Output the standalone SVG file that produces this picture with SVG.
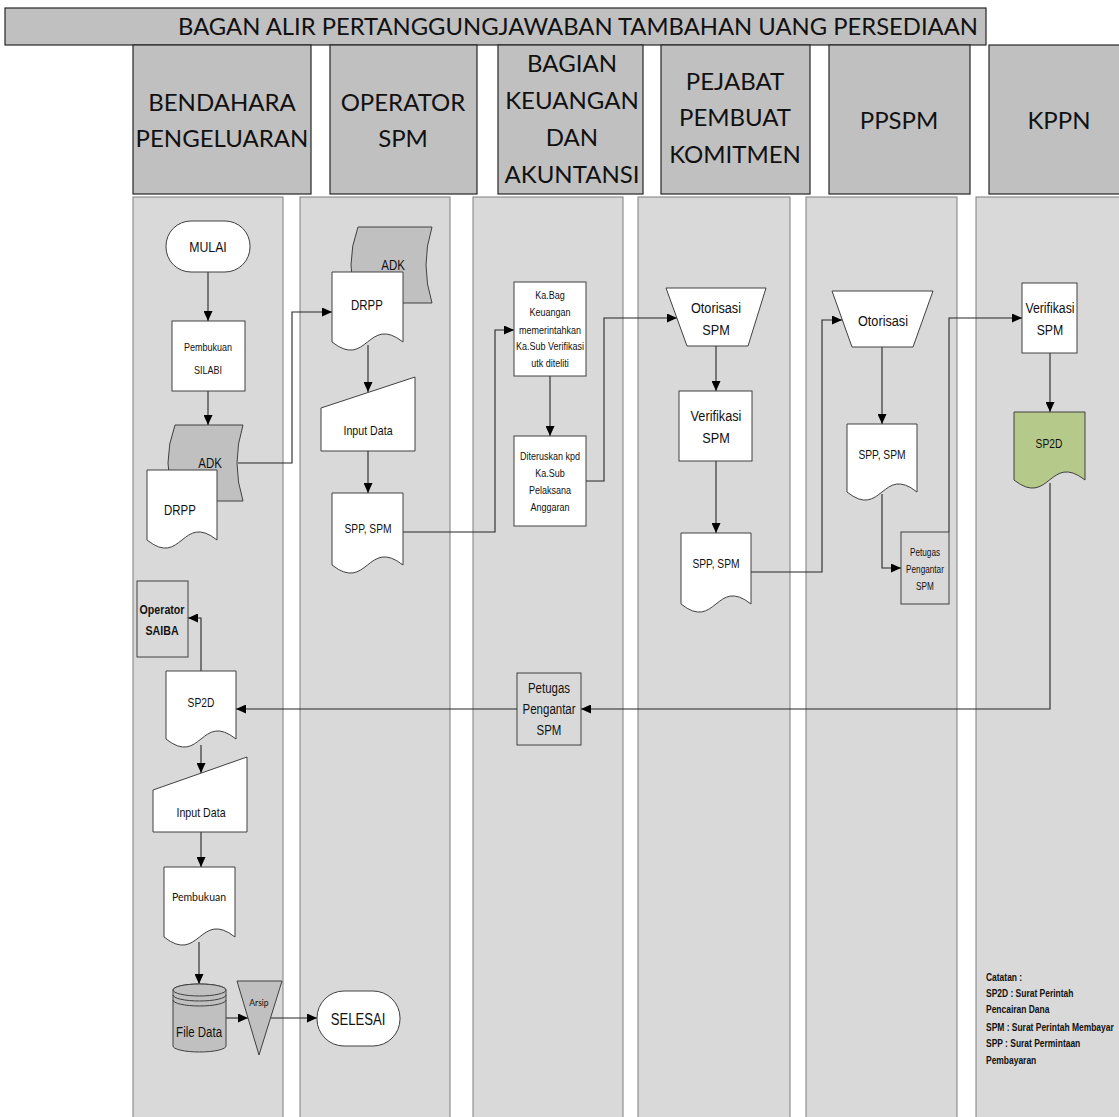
<svg xmlns="http://www.w3.org/2000/svg" width="1119" height="1117" viewBox="0 0 1119 1117">
<style>
.hdr{fill:#c0c0c0;stroke:#262626;stroke-width:1.2}
.lane{fill:#d9d9d9;stroke:#7f7f7f;stroke-width:1}
.ht{font-family:Lato,'Open Sans','Liberation Sans',sans-serif;font-size:24px;fill:#111;text-anchor:middle}
.box{fill:#fff;stroke:#404040;stroke-width:1}
.gbox{fill:#d9d9d9;stroke:#404040;stroke-width:1}
.gray{fill:#c0c0c0;stroke:#404040;stroke-width:1}
.green{fill:#b5c98a;stroke:#404040;stroke-width:1}
.n{font-family:'Liberation Sans',Arial,sans-serif;fill:#111;text-anchor:middle;transform:scaleX(0.82);transform-box:fill-box;transform-origin:center}
.c{font-family:Lato,'Open Sans','Liberation Sans',sans-serif;fill:#111;text-anchor:middle}
.cn line,.cn polyline{fill:none;stroke:#262626;stroke-width:1.1}
.note{font-family:'Liberation Sans',Arial,sans-serif;font-size:11px;font-weight:bold;fill:#111;transform:scaleX(0.77);transform-box:fill-box;transform-origin:left center}
</style>
<defs>
<marker id="ah" markerUnits="userSpaceOnUse" markerWidth="10" markerHeight="9" refX="10" refY="4.5" orient="auto">
<path d="M0,0 L10,4.5 L0,9 Z" fill="#000"/>
</marker>
</defs>

<g id="title">
<rect x="5" y="8" width="981" height="37" class="hdr"/>
<text x="578" y="35" class="ht" textLength="800" lengthAdjust="spacingAndGlyphs">BAGAN ALIR PERTANGGUNGJAWABAN TAMBAHAN UANG PERSEDIAAN</text>
</g>

<g id="headers">
<rect x="133" y="45" width="178" height="149" class="hdr"/>
<text x="222" y="111" class="ht">BENDAHARA</text>
<text x="222" y="147" class="ht">PENGELUARAN</text>
<rect x="330" y="45" width="147" height="149" class="hdr"/>
<text x="403" y="111" class="ht">OPERATOR</text>
<text x="403" y="147" class="ht">SPM</text>
<rect x="498" y="45" width="145" height="149" class="hdr"/>
<text x="572" y="72" class="ht">BAGIAN</text>
<text x="572" y="109" class="ht">KEUANGAN</text>
<text x="572" y="146" class="ht">DAN</text>
<text x="572" y="183" class="ht">AKUNTANSI</text>
<rect x="661" y="45" width="149" height="149" class="hdr"/>
<text x="735" y="90" class="ht">PEJABAT</text>
<text x="735" y="126" class="ht">PEMBUAT</text>
<text x="735" y="163" class="ht">KOMITMEN</text>
<rect x="829" y="45" width="141" height="149" class="hdr"/>
<text x="899" y="129" class="ht">PPSPM</text>
<rect x="989" y="45" width="140" height="149" class="hdr"/>
<text x="1059" y="129" class="ht">KPPN</text>
</g>

<g id="lanes">
<rect x="133" y="197" width="150" height="930" class="lane"/>
<rect x="300" y="197" width="150" height="930" class="lane"/>
<rect x="473" y="197" width="150" height="930" class="lane"/>
<rect x="638" y="197" width="152" height="930" class="lane"/>
<rect x="806" y="197" width="151" height="930" class="lane"/>
<rect x="976" y="197" width="150" height="930" class="lane"/>
</g>

<g id="connectors" class="cn">
<line x1="208" y1="272" x2="208" y2="321" marker-end="url(#ah)"/>
<line x1="208" y1="391" x2="208" y2="425" marker-end="url(#ah)"/>
<polyline points="238,463 292,463 292,312 332,312" marker-end="url(#ah)"/>
<line x1="368" y1="345" x2="368" y2="392" marker-end="url(#ah)"/>
<line x1="368" y1="451" x2="368" y2="493" marker-end="url(#ah)"/>
<polyline points="403,532 495,532 495,330 514,330" marker-end="url(#ah)"/>
<line x1="550" y1="376" x2="550" y2="436" marker-end="url(#ah)"/>
<polyline points="586,481 604,481 604,318 677,318" marker-end="url(#ah)"/>
<line x1="716" y1="346" x2="716" y2="391" marker-end="url(#ah)"/>
<line x1="716" y1="461" x2="716" y2="533" marker-end="url(#ah)"/>
<polyline points="751,572 822,572 822,320 842,320" marker-end="url(#ah)"/>
<line x1="882" y1="347" x2="882" y2="424" marker-end="url(#ah)"/>
<polyline points="882,494 882,568 901,568" marker-end="url(#ah)"/>
<polyline points="949,532 949,318 1022,318" marker-end="url(#ah)"/>
<line x1="1050" y1="353" x2="1050" y2="412" marker-end="url(#ah)"/>
<polyline points="1050,483 1050,709 581,709" marker-end="url(#ah)"/>
<line x1="517" y1="709" x2="236" y2="709" marker-end="url(#ah)"/>
<polyline points="201,671 201,618 188,618" marker-end="url(#ah)"/>
<line x1="201" y1="745" x2="201" y2="773" marker-end="url(#ah)"/>
<line x1="201" y1="832" x2="201" y2="867" marker-end="url(#ah)"/>
<line x1="199" y1="942" x2="199" y2="984" marker-end="url(#ah)"/>
<line x1="226" y1="1018" x2="248" y2="1018" marker-end="url(#ah)"/>
<line x1="271" y1="1018" x2="317" y2="1018" marker-end="url(#ah)"/>
</g>

<g id="mulai">
<rect x="166" y="221" width="84" height="51" rx="25" class="box"/>
<text x="208" y="252" class="n" font-size="15">MULAI</text>
</g>
<g id="pembukuan-silabi">
<rect x="172" y="321" width="73" height="70" class="box"/>
<text x="208" y="351" class="n" font-size="11">Pembukuan</text>
<text x="208" y="374" class="n" font-size="11">SILABI</text>
</g>
<g id="adk-1">
<path d="M175,425 H243 Q231,463 243,501 H175 Q161,463 175,425 Z" class="gray"/>
<text x="210" y="468" class="n" font-size="14">ADK</text>
</g>
<g id="drpp-1">
<path d="M147,470 H217 V540 C182,512 182,568 147,540 Z" class="box"/>
<text x="180" y="515" class="n" font-size="14">DRPP</text>
</g>

<g id="adk-2">
<path d="M358,227 H432 Q420,265 432,303 H358 Q344,265 358,227 Z" class="gray"/>
<text x="393" y="270" class="n" font-size="14">ADK</text>
</g>
<g id="drpp-2">
<path d="M332,272 H403 V342 C367.5,314 367.5,370 332,342 Z" class="box"/>
<text x="367" y="310" class="n" font-size="14">DRPP</text>
</g>
<g id="input-data-2">
<polygon points="321,408 415,377 415,451 321,451" class="box"/>
<text x="368" y="435" class="n" font-size="13">Input Data</text>
</g>
<g id="spp-spm-2">
<path d="M332,493 H403 V565 C367.5,537 367.5,593 332,565 Z" class="box"/>
<text x="368" y="533" class="n" font-size="12.5">SPP, SPM</text>
</g>

<g id="kabag">
<rect x="514" y="282" width="72" height="94" class="box"/>
<text x="550" y="299" class="n" font-size="11">Ka.Bag</text>
<text x="550" y="316" class="n" font-size="11">Keuangan</text>
<text x="550" y="334" class="n" font-size="11">memerintahkan</text>
<text x="550" y="350" class="n" font-size="11">Ka.Sub Verifikasi</text>
<text x="550" y="367" class="n" font-size="11">utk diteliti</text>
</g>
<g id="diteruskan">
<rect x="514" y="436" width="72" height="90" class="box"/>
<text x="550" y="460" class="n" font-size="11">Diteruskan kpd</text>
<text x="550" y="477" class="n" font-size="11">Ka.Sub</text>
<text x="550" y="494" class="n" font-size="11">Pelaksana</text>
<text x="550" y="511" class="n" font-size="11">Anggaran</text>
</g>
<g id="petugas-3">
<rect x="517" y="673" width="64" height="72" class="gbox"/>
<text x="549" y="693" class="n" font-size="14">Petugas</text>
<text x="549" y="714" class="n" font-size="14">Pengantar</text>
<text x="549" y="735" class="n" font-size="14">SPM</text>
</g>

<g id="otorisasi-spm">
<polygon points="666,288 766,288 748,346 687,346" class="box"/>
<text x="716" y="313" class="n" font-size="15.5">Otorisasi</text>
<text x="716" y="335" class="n" font-size="15.5">SPM</text>
</g>
<g id="verifikasi-4">
<rect x="679" y="391" width="73" height="70" class="box"/>
<text x="716" y="421" class="n" font-size="15.5">Verifikasi</text>
<text x="716" y="443" class="n" font-size="15.5">SPM</text>
</g>
<g id="spp-spm-4">
<path d="M681,533 H751 V604 C716,576 716,632 681,604 Z" class="box"/>
<text x="716" y="568" class="n" font-size="12.5">SPP, SPM</text>
</g>

<g id="otorisasi-5">
<polygon points="832,291 933,291 913,347 852,347" class="box"/>
<text x="883" y="326" class="n" font-size="15.5">Otorisasi</text>
</g>
<g id="spp-spm-5">
<path d="M847,424 H917 V492 C882,464 882,520 847,492 Z" class="box"/>
<text x="882" y="459" class="n" font-size="12.5">SPP, SPM</text>
</g>
<g id="petugas-5">
<rect x="901" y="532" width="48" height="72" class="gbox"/>
<text x="925" y="556" class="n" font-size="10">Petugas</text>
<text x="925" y="573" class="n" font-size="10">Pengantar</text>
<text x="925" y="590" class="n" font-size="10">SPM</text>
</g>

<g id="verifikasi-6">
<rect x="1022" y="283" width="55" height="70" class="box"/>
<text x="1050" y="313" class="n" font-size="15">Verifikasi</text>
<text x="1050" y="335" class="n" font-size="15">SPM</text>
</g>
<g id="sp2d-6">
<path d="M1014,412 H1085 V480 C1049.5,452 1049.5,508 1014,480 Z" class="green"/>
<text x="1049" y="448" class="n" font-size="12.5">SP2D</text>
</g>

<g id="operator-saiba">
<rect x="137" y="581" width="51" height="76" class="gbox"/>
<text x="162" y="614" class="n" font-size="13" font-weight="bold">Operator</text>
<text x="162" y="635" class="n" font-size="13" font-weight="bold">SAIBA</text>
</g>
<g id="sp2d-1">
<path d="M166,671 H236 V739 C201,711 201,767 166,739 Z" class="box"/>
<text x="201" y="707" class="n" font-size="12.5">SP2D</text>
</g>
<g id="input-data-1">
<polygon points="153,790 247,757 247,832 153,832" class="box"/>
<text x="201" y="817" class="n" font-size="13">Input Data</text>
</g>
<g id="pembukuan">
<path d="M164,867 H235 V937 C199.5,909 199.5,965 164,937 Z" class="box"/>
<text x="199" y="901" class="c" font-size="10.5">Pembukuan</text>
</g>
<g id="file-data">
<path d="M173,990 V1046 A26.5,6 0 0 0 226,1046 V990 A26.5,6 0 0 0 173,990 Z" class="gray"/>
<ellipse cx="199.5" cy="990" rx="26.5" ry="6" class="gray"/>
<path d="M173,995 A26.5,6 0 0 0 226,995 M173,1000 A26.5,6 0 0 0 226,1000" fill="none" stroke="#404040"/>
<text x="199" y="1037" class="n" font-size="14">File Data</text>
</g>
<g id="arsip">
<polygon points="237,981 282,981 259,1055" class="gray"/>
<text x="259" y="1006" class="c" font-size="8.5">Arsip</text>
</g>
<g id="selesai">
<rect x="317" y="991" width="83" height="55" rx="27" class="box"/>
<text x="358" y="1025" class="n" font-size="16">SELESAI</text>
</g>

<g id="catatan">
<text x="986" y="981" class="note">Catatan :</text>
<text x="986" y="997" class="note">SP2D : Surat Perintah</text>
<text x="986" y="1013" class="note">Pencairan Dana</text>
<text x="986" y="1031" class="note">SPM : Surat Perintah Membayar</text>
<text x="986" y="1047" class="note">SPP : Surat Permintaan</text>
<text x="986" y="1064" class="note">Pembayaran</text>
</g>
</svg>
